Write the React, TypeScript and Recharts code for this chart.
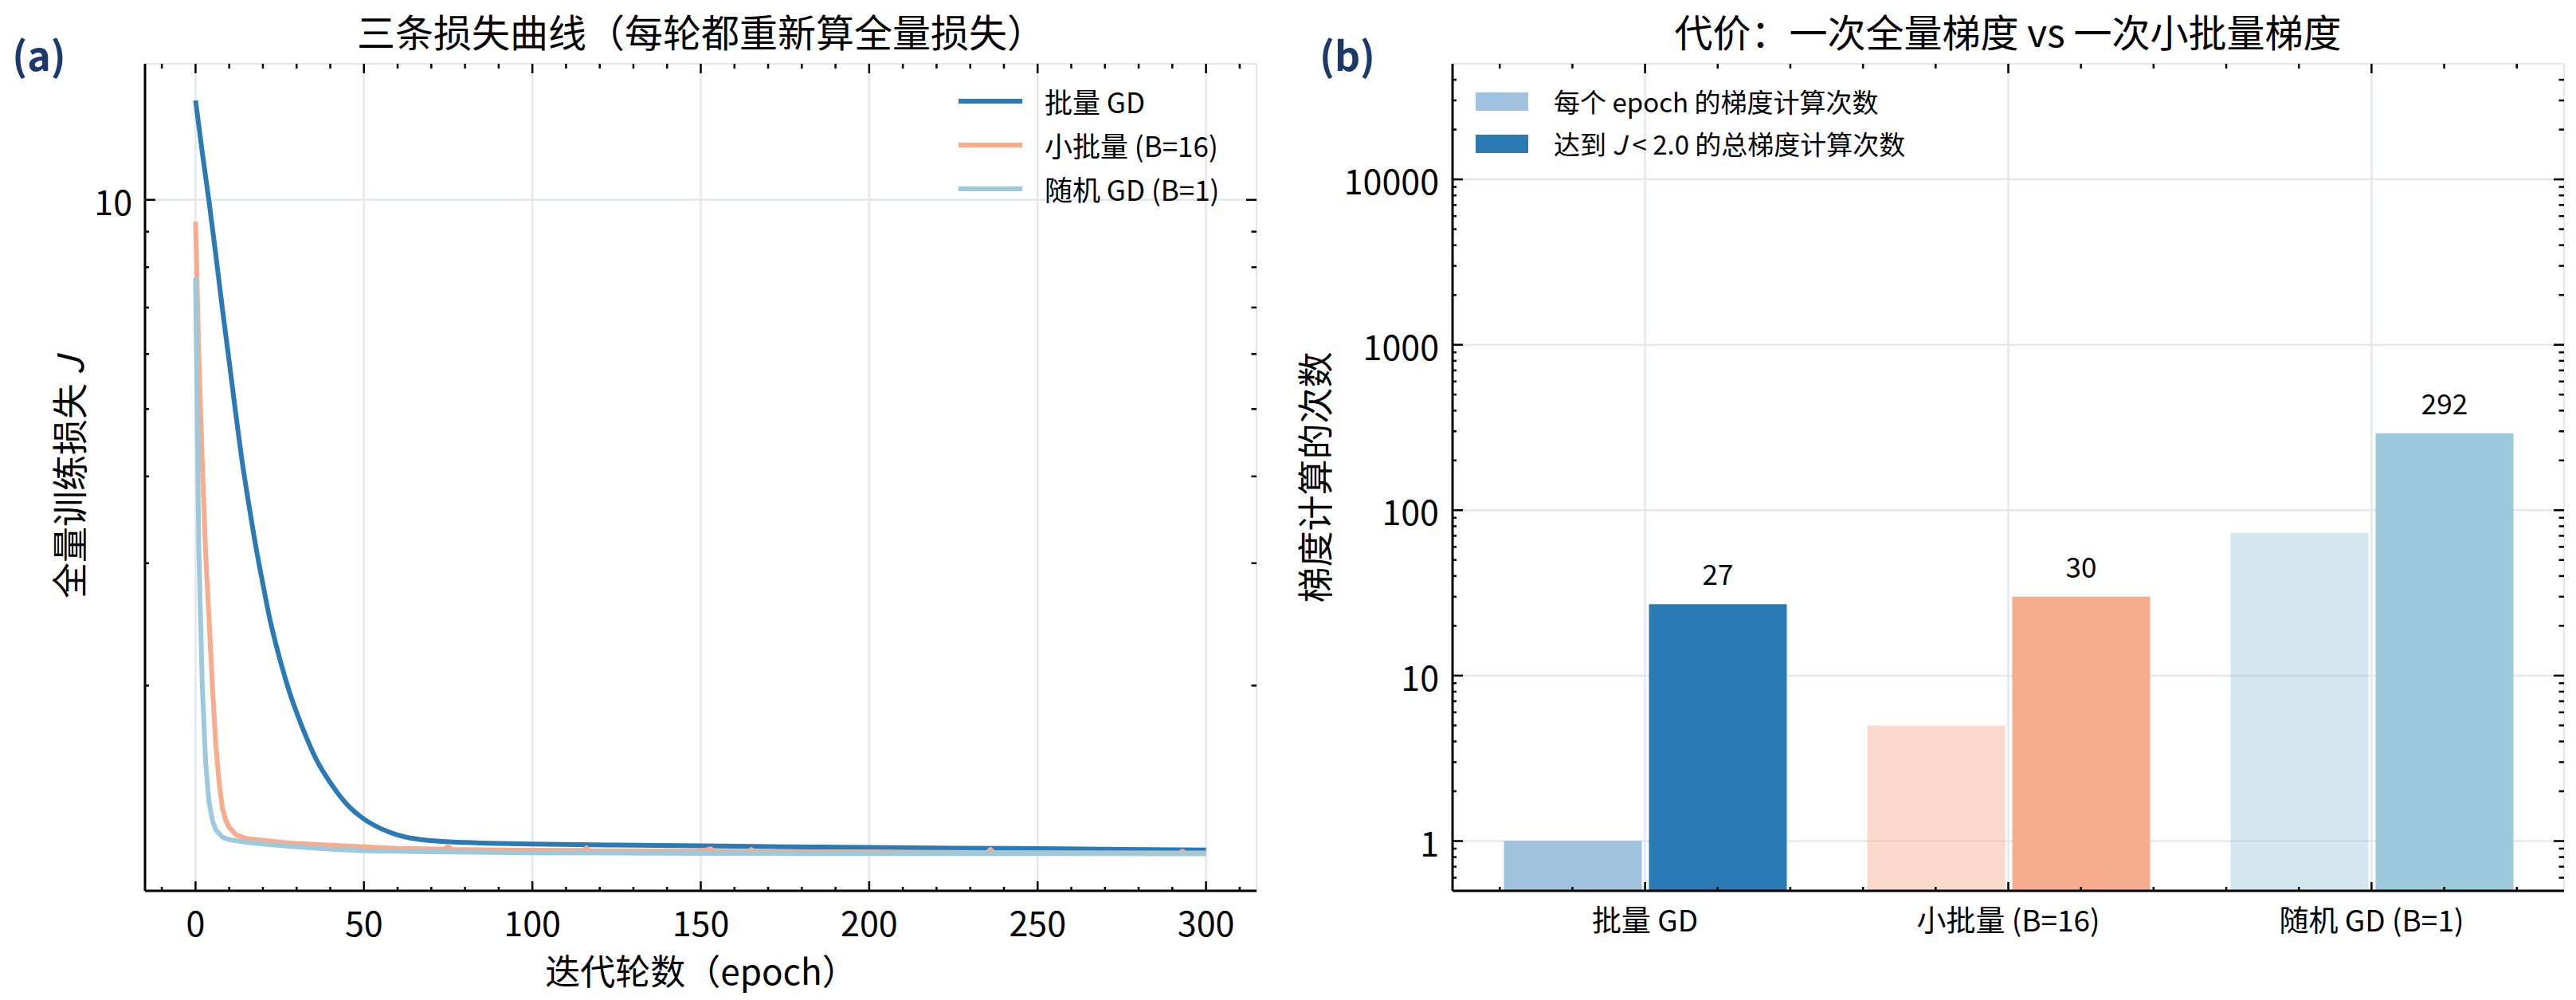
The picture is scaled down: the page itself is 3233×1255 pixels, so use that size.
import React from 'react';
import { LineChart, Line, XAxis, YAxis, CartesianGrid, Legend, BarChart, Bar, Cell, LabelList } from 'recharts';

const FONT = '"Noto Sans CJK SC", "Noto Sans", sans-serif';
const INK = '#000000';
const GRID = '#e3e8ef';
const NAVY = '#1b3a6b';

// ---------- panel (a): full-batch loss per epoch ----------
const seriesNames = ['批量 GD', '小批量 (B=16)', '随机 GD (B=1)'];
const seriesColors = ['#2a7ab6', '#f6ac8d', '#9dc9dc'];

const batchEpochs = [0, 2, 4, 6, 8, 10, 12, 14, 16, 18, 20, 22, 24, 26, 28, 30, 33, 36, 40, 45, 50, 55, 60, 65, 70, 80, 90, 100, 125, 150, 175, 200, 225, 250, 275, 300];
const batchLoss = [13.9, 11.7, 9.95, 8.35, 6.95, 5.85, 4.9, 4.15, 3.6, 3.15, 2.8, 2.5, 2.28, 2.1, 1.95, 1.83, 1.68, 1.56, 1.45, 1.348, 1.285, 1.245, 1.219, 1.204, 1.196, 1.189, 1.185, 1.183, 1.179, 1.176, 1.172, 1.17, 1.167, 1.165, 1.162, 1.16];

const miniEpochs = [0, 1, 2, 3, 4, 5, 6, 7, 8, 9, 10, 12, 15, 20, 25, 30, 40, 50, 60, 70, 74, 75, 76, 90, 100, 115, 116, 117, 130, 150, 153, 154, 164, 165, 166, 200, 235, 236, 237, 260, 292, 293, 294, 300];
const miniLoss = [9.3, 5.9, 4.2, 3.1, 2.5, 2.0, 1.65, 1.45, 1.33, 1.28, 1.25, 1.22, 1.205, 1.198, 1.19, 1.185, 1.178, 1.172, 1.166, 1.164, 1.163, 1.175, 1.162, 1.16, 1.159, 1.158, 1.168, 1.157, 1.157, 1.156, 1.164, 1.155, 1.155, 1.162, 1.154, 1.152, 1.15, 1.162, 1.15, 1.149, 1.148, 1.155, 1.148, 1.148];

const sgdEpochs = [0, 1, 2, 3, 4, 5, 6, 8, 10, 15, 20, 30, 40, 50, 75, 100, 150, 200, 250, 300];
const sgdLoss = [7.73, 3.1, 2.0, 1.55, 1.36, 1.28, 1.24, 1.21, 1.2, 1.19, 1.183, 1.172, 1.163, 1.157, 1.152, 1.149, 1.147, 1.146, 1.146, 1.145];

const epochTicks = [0, 50, 100, 150, 200, 250, 300];
const epochMinorTicks = [-10, 10, 20, 30, 40, 60, 70, 80, 90, 110, 120, 130, 140, 160, 170, 180, 190, 210, 220, 230, 240, 260, 270, 280, 290, 310];
const lossTicks = [10];
const lossMinorTicks = [2, 3, 4, 5, 6, 7, 8, 9];
const allLossTicks = [2, 3, 4, 5, 6, 7, 8, 9, 10];
const allEpochTicks = [-10, 0, 10, 20, 30, 40, 50, 60, 70, 80, 90, 100, 110, 120, 130, 140, 150, 160, 170, 180, 190, 200, 210, 220, 230, 240, 250, 260, 270, 280, 290, 300, 310];

// ---------- panel (b): gradient-computation cost ----------
const methodLabels = ['批量 GD', '小批量 (B=16)', '随机 GD (B=1)'];
const methodPositions = [0, 1, 2];
const gradsPerEpoch = [1, 5, 73];
const gradsToTarget = [27, 30, 292];
const barColors = ['#2a7ab6', '#f6ac8d', '#9dc9dc'];
const barLegendNames = ['每个 epoch 的梯度计算次数', '达到 J < 2.0 的总梯度计算次数'];

const countTicks = [1, 10, 100, 1000, 10000];
const countMinorTicks = [0.6, 0.7, 0.8, 0.9, 2, 3, 4, 5, 6, 7, 8, 9, 20, 30, 40, 50, 60, 70, 80, 90, 200, 300, 400, 500, 600, 700, 800, 900, 2000, 3000, 4000, 5000, 6000, 7000, 8000, 9000, 20000, 30000, 40000];
const allCountTicks = [0.6, 0.7, 0.8, 0.9, 1, 2, 3, 4, 5, 6, 7, 8, 9, 10, 20, 30, 40, 50, 60, 70, 80, 90, 100, 200, 300, 400, 500, 600, 700, 800, 900, 1000, 2000, 3000, 4000, 5000, 6000, 7000, 8000, 9000, 10000, 20000, 30000, 40000];
const catMajorTicks = [0, 1, 2];
const catMinorTicks = [-0.4, -0.2, 0.2, 0.4, 0.6, 0.8, 1.2, 1.4, 1.6, 1.8, 2.2, 2.4];
const catAllTicks = [...catMinorTicks, ...catMajorTicks];

const batchData = batchEpochs.map((x, i) => ({ x, v: batchLoss[i] }));
const miniData = miniEpochs.map((x, i) => ({ x, v: miniLoss[i] }));
const sgdData = sgdEpochs.map((x, i) => ({ x, v: sgdLoss[i] }));
const lineSeries = [batchData, miniData, sgdData];
const lineCurve: ('monotoneX' | 'linear')[] = ['monotoneX', 'linear', 'linear'];

const barData = methodLabels.map((name, i) => ({ name, pos: methodPositions[i], perEpoch: gradsPerEpoch[i], total: gradsToTarget[i] }));

type Side = 'bottom' | 'top' | 'left' | 'right';
const tickMark = (side: Side, len: number, majors: number[] | null, label?: { gap: number; size: number }) => (props: any) => {
  const { x, y, payload } = props;
  const v = payload ? payload.value : '';
  const isMajor = majors ? majors.includes(Number(v)) : true;
  const L = majors ? (isMajor ? len : len / 2) : len;
  let x2 = x;
  let y2 = y;
  if (side === 'bottom') y2 = y - L;
  else if (side === 'top') y2 = y + L;
  else if (side === 'left') x2 = x + L;
  else x2 = x - L;
  let text = null;
  if (label && isMajor) {
    text = side === 'bottom'
      ? <text x={x} y={y + label.gap} textAnchor="middle" dominantBaseline="central" fontFamily={FONT} fontSize={label.size} fill={INK}>{v}</text>
      : <text x={x - label.gap} y={y} textAnchor="end" dominantBaseline="central" fontFamily={FONT} fontSize={label.size} fill={INK}>{v}</text>;
  }
  return (
    <g>
      {L > 0 && <line x1={x} y1={y} x2={x2} y2={y2} stroke={INK} strokeWidth={2.5} />}
      {text}
    </g>
  );
};

const lineLegend = (props: any) => {
  const payload = [...(props.payload || [])].sort(
    (a: any, b: any) => seriesNames.indexOf(a.value) - seriesNames.indexOf(b.value));
  return (
    <div style={{ fontFamily: FONT, fontSize: 35, color: INK }}>
      {payload.map((e: any) => (
        <div key={e.value} style={{ display: 'flex', alignItems: 'center', height: 55 }}>
          <div style={{ width: 80, height: 6, background: e.color, marginRight: 28 }} />
          <span style={{ whiteSpace: 'nowrap' }}>{e.value}</span>
        </div>
      ))}
    </div>
  );
};

const barLegend = (props: any) => {
  const payload = [...(props.payload || [])].sort(
    (a: any, b: any) => barLegendNames.indexOf(a.value) - barLegendNames.indexOf(b.value));
  return (
    <div style={{ fontFamily: FONT, fontSize: 33, color: INK }}>
      {payload.map((e: any, i: number) => (
        <div key={i} style={{ display: 'flex', alignItems: 'center', height: 53 }}>
          <div style={{ width: 66, height: 23, background: e.color, opacity: e.dataKey === 'perEpoch' ? 0.45 : 1, marginRight: 32 }} />
          <span style={{ whiteSpace: 'nowrap' }}>
            {e.dataKey === 'total'
              ? <>达到 <i>J</i>&nbsp;&lt; 2.0 的总梯度计算次数</>
              : e.value}
          </span>
        </div>
      ))}
    </div>
  );
};

const abs = (left: number, top: number, size: number, extra: React.CSSProperties = {}): React.CSSProperties => ({
  position: 'absolute', left, top, fontFamily: FONT, fontSize: size, color: INK, whiteSpace: 'nowrap',
  transform: 'translate(-50%, -50%)', lineHeight: 1, ...extra,
});

export default function App() {
  return (
    <div style={{ position: 'absolute', left: 0, top: 0, width: 3233, height: 1255, background: '#ffffff', overflow: 'hidden' }}>
      {/* panel (a) */}
      <div style={{ position: 'absolute', left: 0, top: 0 }}>
        <LineChart width={1600} height={1255} margin={{ top: 79, right: 22, bottom: 135, left: 180 }}>
          <CartesianGrid stroke={GRID} strokeWidth={2.5} />
          <XAxis type="number" dataKey="x" domain={[-15, 315]} allowDataOverflow ticks={epochTicks} interval={0}
            height={1} tickSize={0} tickMargin={0} tickLine={false} axisLine={{ stroke: INK, strokeWidth: 3 }}
            tick={tickMark('bottom', 12, null, { gap: 38, size: 43 })} />
          <XAxis xAxisId="xm" type="number" dataKey="x" domain={[-15, 315]} allowDataOverflow ticks={epochMinorTicks} interval={0}
            height={1} tickSize={0} tickMargin={0} tickLine={false} axisLine={false}
            tick={tickMark('bottom', 6, null)} />
          <XAxis xAxisId="xt" orientation="top" type="number" dataKey="x" domain={[-15, 315]} allowDataOverflow ticks={allEpochTicks} interval={0}
            height={1} tickSize={0} tickMargin={0} tickLine={false} axisLine={false}
            tick={tickMark('top', 12, epochTicks)} />
          <YAxis scale="log" type="number" domain={[1.013, 15.7]} allowDataOverflow ticks={lossTicks} interval={0}
            width={1} tickSize={0} tickMargin={0} tickLine={false} axisLine={{ stroke: INK, strokeWidth: 3 }}
            tick={tickMark('left', 13, null, { gap: 16, size: 43 })} />
          <YAxis yAxisId="ym" scale="log" type="number" domain={[1.013, 15.7]} allowDataOverflow ticks={lossMinorTicks} interval={0}
            width={1} tickSize={0} tickMargin={0} tickLine={false} axisLine={false}
            tick={tickMark('left', 6, null)} />
          <YAxis yAxisId="yr" orientation="right" scale="log" type="number" domain={[1.013, 15.7]} allowDataOverflow ticks={allLossTicks} interval={0}
            width={1} tickSize={0} tickMargin={0} tickLine={false} axisLine={false}
            tick={tickMark('right', 13, lossTicks)} />
          {lineSeries.map((d, i) => (
            <Line key={seriesNames[i]} data={d} dataKey="v" name={seriesNames[i]} type={lineCurve[i]} stroke={seriesColors[i]}
              strokeWidth={6} dot={false} activeDot={false} isAnimationActive={false} strokeLinejoin="round" />
          ))}
          <Legend layout="vertical" align="center" verticalAlign="middle" content={lineLegend}
            wrapperStyle={{ left: 1203, top: 99, width: 'auto', height: 'auto' }} />
        </LineChart>
      </div>

      {/* panel (b) */}
      <div style={{ position: 'absolute', left: 1600, top: 0 }}>
        <BarChart width={1633} height={1255} data={barData} margin={{ top: 79, right: 14, bottom: 135, left: 221 }}
          barSize={173} barGap={9}>
          <CartesianGrid stroke={GRID} strokeWidth={2.5} />
          <XAxis dataKey="name" type="category" padding={{ left: 13.5, right: 13.5 }} interval={0}
            height={1} tickSize={0} tickMargin={0} tickLine={false} axisLine={{ stroke: INK, strokeWidth: 3 }}
            tick={tickMark('bottom', 0, null, { gap: 35, size: 37 })} />
          <XAxis xAxisId="xb" dataKey="pos" type="number" scale="linear" domain={[-0.53, 2.53]} allowDataOverflow ticks={catAllTicks} interval={0}
            height={1} tickSize={0} tickMargin={0} tickLine={false} axisLine={false}
            tick={tickMark('bottom', 12, catMajorTicks)} />
          <XAxis xAxisId="xt" dataKey="pos" orientation="top" type="number" scale="linear" domain={[-0.53, 2.53]} allowDataOverflow ticks={catAllTicks} interval={0}
            height={1} tickSize={0} tickMargin={0} tickLine={false} axisLine={false}
            tick={tickMark('top', 12, catMajorTicks)} />
          <YAxis scale="log" type="number" domain={[0.5, 50000]} allowDataOverflow ticks={countTicks} interval={0}
            width={1} tickSize={0} tickMargin={0} tickLine={false} axisLine={{ stroke: INK, strokeWidth: 3 }}
            tick={tickMark('left', 13, null, { gap: 17, size: 43 })} />
          <YAxis yAxisId="ym" scale="log" type="number" domain={[0.5, 50000]} allowDataOverflow ticks={countMinorTicks} interval={0}
            width={1} tickSize={0} tickMargin={0} tickLine={false} axisLine={false}
            tick={tickMark('left', 6, null)} />
          <YAxis yAxisId="yr" orientation="right" scale="log" type="number" domain={[0.5, 50000]} allowDataOverflow ticks={allCountTicks} interval={0}
            width={1} tickSize={0} tickMargin={0} tickLine={false} axisLine={false}
            tick={tickMark('right', 13, countTicks)} />
          <Bar dataKey="perEpoch" name={barLegendNames[0]} fill={barColors[0]} isAnimationActive={false}>
            {barData.map((_, i) => <Cell key={i} fill={barColors[i]} fillOpacity={0.45} />)}
          </Bar>
          <Bar dataKey="total" name={barLegendNames[1]} fill={barColors[0]} isAnimationActive={false}>
            {barData.map((_, i) => <Cell key={i} fill={barColors[i]} />)}
            <LabelList dataKey="total" position="top" offset={24} fill={INK} fontSize={35} fontFamily={FONT} />
          </Bar>
          <Legend layout="vertical" align="center" verticalAlign="middle" content={barLegend}
            wrapperStyle={{ left: 252, top: 100.5, width: 'auto', height: 'auto' }} />
        </BarChart>
      </div>

      {/* titles, panel letters and axis titles */}
      <div style={abs(880, 38, 48)}>三条损失曲线（每轮都重新算全量损失）</div>
      <div style={abs(2520, 38, 48)}>代价：一次全量梯度 vs 一次小批量梯度</div>
      <div style={abs(49, 67, 50, { fontWeight: 700, color: NAVY })}>(a)</div>
      <div style={abs(1691, 67, 50, { fontWeight: 700, color: NAVY })}>(b)</div>
      <div style={abs(880, 1217, 44)}>迭代轮数（epoch）</div>
      <div style={abs(85, 599, 45, { transform: 'translate(-50%, -50%) rotate(-90deg)' })}>全量训练损失 <i>J</i></div>
      <div style={abs(1648, 599, 45, { transform: 'translate(-50%, -50%) rotate(-90deg)' })}>梯度计算的次数</div>
    </div>
  );
}
